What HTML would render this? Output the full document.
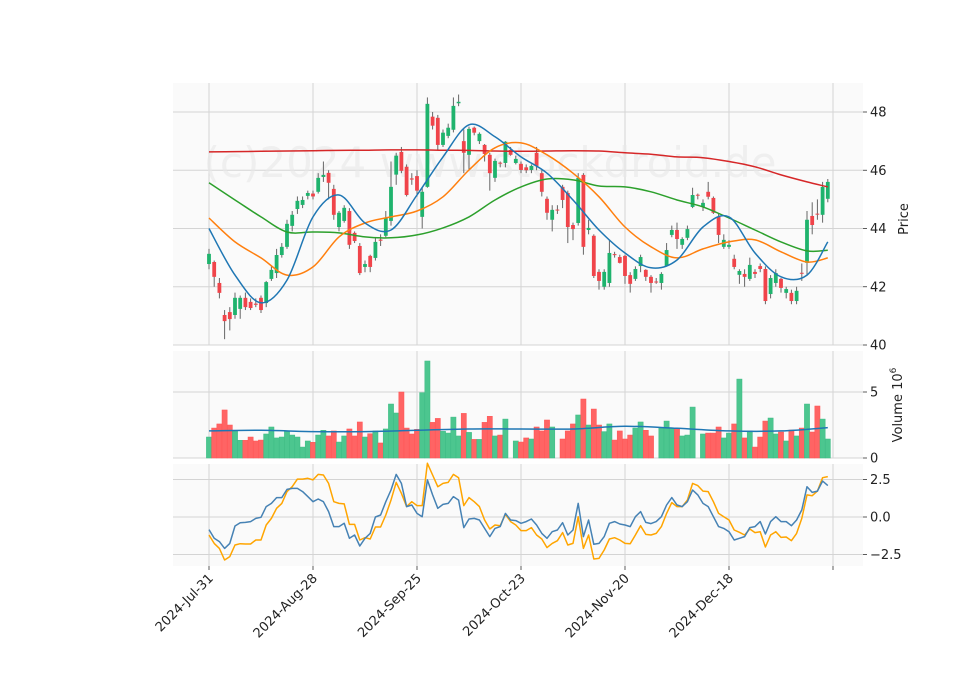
<!DOCTYPE html>
<html><head><meta charset="utf-8"><style>
html,body{margin:0;padding:0;background:#fff;}
svg{display:block;font-family:"DejaVu Sans","Liberation Sans",sans-serif;}
</style></head><body>
<svg id="chart" width="960" height="690" viewBox="0 0 960 690" xmlns="http://www.w3.org/2000/svg">
<rect x="0" y="0" width="960" height="690" fill="#fff"/>
<g id="panels"></g>
<text x="490" y="177" font-size="42" fill="#e8e8e8" fill-opacity="0.6" text-anchor="middle">(c)2024 www.stockdroid.de</text>
<g id="marks"></g>
<g id="axes"></g>
</svg>
<script>
const xTickLabels = ["2024-Jul-31","2024-Aug-28","2024-Sep-25","2024-Oct-23","2024-Nov-20","2024-Dec-18",""];
const xTickIdx = [0,20,40,60,80,100,120];
const open = [42.78,42.85,42.13,41.03,41.13,41.03,41.24,41.62,41.48,41.42,41.62,41.44,42.27,42.47,43.09,43.37,44.09,44.67,44.81,45.12,45.20,45.26,45.77,45.91,45.36,44.05,44.26,44.60,43.85,43.40,42.68,43.06,42.99,43.62,43.75,44.26,45.85,46.63,46.12,45.72,45.80,44.40,45.43,47.84,47.80,46.87,47.18,47.39,48.30,47.00,46.53,47.46,47.00,46.87,46.53,45.74,46.26,46.25,46.70,46.25,46.22,46.10,46.01,46.60,45.90,45.02,44.30,44.65,45.43,45.22,44.12,44.19,45.84,43.95,43.75,42.51,42.00,42.13,43.12,43.02,43.06,42.40,42.27,42.71,42.58,42.34,42.18,42.13,42.71,43.78,43.95,43.44,43.68,44.74,45.16,44.74,45.26,45.05,44.40,43.37,43.37,42.96,42.41,42.44,42.27,42.51,42.71,42.61,41.75,42.13,42.27,41.79,41.79,41.51,42.48,42.82,44.43,44.51,44.47,45.02];
const close = [43.13,42.34,41.79,40.82,40.89,41.62,41.62,41.30,41.27,41.38,41.20,42.16,42.58,43.09,43.37,44.16,44.47,44.95,44.98,45.22,45.10,45.74,45.84,45.57,44.47,44.54,44.71,43.44,43.57,42.47,42.78,42.68,43.54,43.58,44.36,45.43,46.50,45.98,45.15,45.68,45.30,45.26,48.28,47.53,46.87,47.29,47.46,48.21,48.35,46.60,47.42,47.29,47.25,46.56,45.90,46.32,46.24,46.98,46.53,46.39,46.01,46.00,46.15,46.15,45.26,44.54,44.64,44.63,44.98,44.05,43.98,45.74,43.37,44.02,42.37,42.20,42.51,43.16,43.09,42.82,42.37,42.10,42.61,43.02,42.34,42.13,42.16,42.44,43.26,43.95,43.64,43.64,43.98,45.15,45.14,44.88,45.09,44.54,43.78,43.61,43.44,42.68,42.54,42.34,42.75,42.44,42.61,41.51,42.30,42.47,41.96,41.92,41.51,41.86,42.46,44.30,44.12,44.49,45.43,45.60];
const high = [43.3,42.9,42.3,41.2,41.3,41.8,41.7,41.8,41.6,41.6,41.7,42.2,42.7,43.3,43.5,44.3,44.6,45.1,45.1,45.3,45.3,45.9,46.3,46.0,45.5,44.6,44.8,44.7,43.9,43.5,42.9,43.1,43.7,43.8,44.6,46.3,46.6,46.8,46.2,45.9,46.0,45.4,48.5,48.0,47.9,47.4,47.6,48.5,48.6,47.4,47.5,47.5,47.3,46.9,46.6,46.4,46.3,47.0,46.8,46.5,46.3,46.2,46.2,46.8,46.0,45.1,44.8,44.8,45.5,45.3,44.2,45.9,45.9,44.3,43.8,42.6,42.6,43.6,43.2,43.1,43.1,42.5,42.7,43.1,42.6,42.4,42.3,42.5,43.5,44.1,44.2,43.7,44.1,45.4,45.2,45.0,45.6,45.1,44.5,43.8,43.6,43.1,42.6,42.6,43.0,42.6,42.8,42.7,42.4,42.6,42.3,42.0,41.9,42.0,42.8,44.6,44.9,45.0,45.6,45.7];
const low = [42.6,42.0,41.6,40.2,40.5,40.9,40.9,41.2,41.2,41.3,41.1,41.3,42.2,42.3,43.0,43.3,43.9,44.5,44.7,45.0,45.0,45.2,45.6,45.0,44.3,43.9,44.2,43.3,43.5,42.4,42.5,42.5,42.9,43.4,43.7,44.1,45.5,45.9,45.1,45.5,45.1,44.0,45.4,47.4,46.7,46.8,47.1,47.3,48.2,45.9,46.0,47.2,46.9,46.3,45.3,45.6,46.1,46.1,46.5,46.2,45.9,45.9,45.9,46.0,45.1,44.3,43.9,44.5,44.7,43.5,43.6,44.1,43.1,43.8,42.3,41.9,41.9,42.0,43.0,42.8,42.1,41.8,42.2,42.5,42.2,41.8,42.1,41.9,42.7,43.7,43.3,43.3,43.6,44.7,45.0,44.6,45.0,44.5,43.5,43.3,43.3,42.6,42.1,42.0,42.2,42.3,42.5,41.4,41.6,42.0,41.8,41.6,41.4,41.4,42.2,42.4,43.8,44.3,44.2,44.9];
const volume = [1.59,2.27,2.58,3.64,2.5,2.1,1.34,1.34,1.59,1.29,1.36,1.82,2.35,1.52,1.59,2.02,1.74,1.59,0.83,1.29,1.19,1.74,2.1,1.67,2.05,1.21,1.67,2.2,1.67,2.73,1.59,1.84,2.05,1.14,2.2,4.09,3.41,5.0,2.27,1.82,2.17,4.95,7.35,2.7,3.0,2.02,1.89,3.1,1.67,3.38,1.94,1.41,1.41,2.7,3.16,1.67,1.74,2.95,0,1.29,1.21,1.52,1.44,2.35,2.05,2.88,2.35,0,1.44,2.05,2.58,3.26,4.47,2.5,3.71,2.5,2.0,2.58,1.36,2.05,1.44,1.74,2.27,2.73,2.1,1.67,0,2.27,2.8,2.27,2.25,1.67,1.74,3.86,0,1.82,1.89,1.89,2.35,1.52,1.89,2.58,5.98,1.52,2.05,0.83,1.59,2.8,3.03,1.82,1.97,1.29,2.12,1.67,2.27,4.09,1.97,3.94,2.95,1.44];
const volMaIdx = [0,10,20,30,40,50,60,70,80,90,100,110,119];
const volMa = [2.05,2.1,2.0,2.0,2.1,2.2,2.2,2.2,2.4,2.25,2.05,2.05,2.3];
const maIdx = [0,5,10,15,20,25,30,35,40,45,50,55,60,65,70,75,80,85,90,95,100,105,110,115,119];
const maShort = [44.0,42.4,41.45,42.23,44.4,45.15,44.19,43.95,45.15,46.46,47.56,47.15,46.46,45.9,44.98,43.95,43.16,42.65,42.92,44.05,44.4,43.16,42.34,42.4,43.54];
const maMid = [44.36,43.54,42.99,42.4,42.68,43.71,44.19,44.4,44.6,45.09,46.01,46.77,46.94,46.53,45.9,45.09,44.05,43.37,42.99,43.3,43.54,43.61,43.2,42.85,42.99];
const maLong = [45.57,44.98,44.4,43.88,43.88,43.85,43.71,43.68,43.78,44.02,44.4,44.98,45.43,45.7,45.67,45.46,45.43,45.26,44.98,44.74,44.36,43.95,43.54,43.23,43.25];
const maVLong = [46.63,46.64,46.65,46.66,46.67,46.68,46.69,46.7,46.7,46.69,46.68,46.66,46.65,46.66,46.67,46.66,46.6,46.55,46.46,46.43,46.3,46.12,45.84,45.6,45.43];
const oscA = [-0.84,-1.42,-1.64,-2.09,-1.76,-0.6,-0.38,-0.36,-0.31,-0.09,-0.02,0.69,0.91,1.29,1.29,1.84,1.91,1.91,1.69,1.36,1.02,1.2,1.02,0.36,-0.64,-0.64,-0.42,-1.42,-1.2,-1.93,-1.42,-1.09,0,0.13,1.02,1.8,2.84,2.24,0.69,0.8,0.24,0.02,2.47,1.47,0.58,0.84,0.91,1.36,1.13,-0.71,-0.13,-0.09,-0.2,-0.76,-1.31,-0.76,-0.64,0.24,-0.2,-0.24,-0.42,-0.31,-0.13,-0.53,-1.09,-1.42,-0.98,-0.87,-0.38,-1.2,-0.87,0.91,-1.31,-0.2,-1.82,-1.76,-1.31,-0.42,-0.31,-0.47,-0.53,-0.64,0.02,0.36,-0.36,-0.44,-0.31,0.02,0.8,1.29,0.8,0.69,1.02,1.8,1.47,0.91,0.69,0.02,-0.64,-0.76,-0.98,-1.53,-1.42,-1.31,-0.71,-0.64,-0.31,-1.13,-0.31,0.02,-0.31,-0.31,-0.58,-0.2,0.47,2.02,1.64,1.73,2.4,2.09];
const oscB = [-1.2,-1.76,-2.09,-2.87,-2.64,-1.87,-1.78,-1.8,-1.8,-1.53,-1.53,-0.53,-0.09,0.58,0.91,1.69,2.02,2.53,2.53,2.58,2.47,2.84,2.8,2.24,1.02,0.91,0.87,-0.49,-0.49,-1.53,-1.38,-1.47,-0.67,-0.67,0.13,1.13,2.31,1.58,0.69,1.02,0.76,0.76,3.58,2.8,2.02,2.24,2.31,2.84,2.62,0.76,1.29,1.02,0.69,-0.2,-0.8,-0.53,-0.58,0.18,-0.31,-0.53,-0.91,-0.91,-0.71,-1.2,-1.47,-2.04,-1.76,-1.58,-1.04,-1.87,-1.76,0.02,-2.09,-1.2,-2.8,-2.76,-2.2,-1.47,-1.38,-1.53,-1.76,-1.78,-1.2,-0.58,-1.16,-1.2,-1.09,-0.64,0.24,0.96,0.69,0.69,1.13,2.24,2.09,1.73,1.69,1.02,0.24,0.02,-0.2,-0.87,-1.02,-1.2,-0.8,-1.04,-0.98,-2.0,-1.2,-0.98,-1.36,-1.33,-1.58,-1.09,-0.09,1.47,1.42,1.73,2.62,2.69];
const priceTicks = [40,42,44,46,48];
const volTicks = [0,5];
const oscTicks = [-2.5,0,2.5];
const oscTickLabels = ["\u22122.5","0.0","2.5"];

const NS = "http://www.w3.org/2000/svg";
const X0 = 173, X1 = 863;
const xs = i => 209 + 5.2 * i;
const yP = v => 345 - (v - 40) * 29.125;
const yV = v => 458 - v * 13.2;
const yO = v => 517 - v * 15;
function el(tag, attrs, parent) {
  const e = document.createElementNS(NS, tag);
  for (const k in attrs) e.setAttribute(k, attrs[k]);
  parent.appendChild(e);
  return e;
}
const panels = document.getElementById('panels');
const marks = document.getElementById('marks');
const axes = document.getElementById('axes');
const panelDefs = [["price-panel",83,345],["volume-panel",351,458],["oscillator-panel",464,566]];
panelDefs.forEach(p => {
  const r = el('rect', {x:X0, y:p[1], width:X1-X0, height:p[2]-p[1], fill:'#fafafa'}, panels);
  
  
  xTickIdx.forEach(i => {
    const g = el('line', {x1:xs(i), x2:xs(i), y1:p[1], y2:p[2], stroke:'#d4d4d4', 'stroke-width':1}, panels);
    
    
  });
});
function hgrid(y, y0, y1) {
  if (y < y0 - 0.5 || y > y1 + 0.5) return;
  const g = el('line', {x1:X0, x2:X1, y1:y, y2:y, stroke:'#d4d4d4', 'stroke-width':1}, panels);
  
  
}
function ylabel(y, txt, name) {
  el('line', {x1:X1, x2:X1+4, y1:y, y2:y, stroke:'#333', 'stroke-width':0.8}, axes);
  const t = el('text', {x:X1+7, y:y+4.5, 'font-size':13, fill:'#222'}, axes);
  t.textContent = txt;
  
  
}
priceTicks.forEach(v => { hgrid(yP(v), 83, 345); ylabel(yP(v), String(v), 'price-tick-label'); });
volTicks.forEach(v => { hgrid(yV(v), 351, 458); ylabel(yV(v), String(v), 'volume-tick-label'); });
oscTicks.forEach((v, k) => { hgrid(yO(v), 464, 566); ylabel(yO(v), oscTickLabels[k], 'oscillator-tick-label'); });

const UP = '#1fb36d', DN = '#f0444a', VUP = '#4cc68f', VDN = '#ff6464';
for (let i = 0; i < close.length; i++) {
  const up = close[i] >= open[i];
  const w = el('line', {x1:xs(i), x2:xs(i), y1:yP(high[i]), y2:yP(low[i]), stroke:'#666', 'stroke-width':1}, marks);
  
  
  const yt = yP(Math.max(open[i], close[i])), yb = yP(Math.min(open[i], close[i]));
  const b = el('rect', {x:xs(i)-1.9, y:yt, width:3.8, height:Math.max(1, yb-yt), fill: up?UP:DN}, marks);
  
  
  const vb = el('rect', {x:xs(i)-2.6, y:yV(volume[i]), width:5.2, height:458-yV(volume[i]), fill: up?VUP:VDN, stroke: up?'#3dbb84':'#f55', 'stroke-width':0.5}, marks);
  
  
}
function line(idx, vals, yf, color, name, w) {
  const pts = vals.map((v, k) => xs(idx[k]).toFixed(1) + ',' + yf(v).toFixed(1)).join(' ');
  const p = el('polyline', {points:pts, fill:'none', stroke:color, 'stroke-width':w||1.5, 'stroke-linejoin':'round'}, marks);
  
  
}
function smooth(idx, vals, yf, color, name) {
  const P = vals.map((v, k) => [xs(idx[k]), yf(v)]);
  let d = 'M' + P[0][0].toFixed(1) + ',' + P[0][1].toFixed(1);
  for (let k = 0; k < P.length - 1; k++) {
    const p0 = P[Math.max(0, k-1)], p1 = P[k], p2 = P[k+1], p3 = P[Math.min(P.length-1, k+2)];
    const c1 = [p1[0] + (p2[0]-p0[0])/6, p1[1] + (p2[1]-p0[1])/6];
    const c2 = [p2[0] - (p3[0]-p1[0])/6, p2[1] - (p3[1]-p1[1])/6];
    d += ' C' + c1[0].toFixed(1) + ',' + c1[1].toFixed(1) + ' ' + c2[0].toFixed(1) + ',' + c2[1].toFixed(1) + ' ' + p2[0].toFixed(1) + ',' + p2[1].toFixed(1);
  }
  const p = el('path', {d:d, fill:'none', stroke:color, 'stroke-width':1.5}, marks);
  
  
}
smooth(maIdx, maVLong, yP, '#d62728', 'ma-long-line');
smooth(maIdx, maLong, yP, '#2ca02c', 'ma-200-line');
smooth(maIdx, maMid, yP, '#ff7f0e', 'ma-mid-line');
smooth(maIdx, maShort, yP, '#1f77b4', 'ma-short-line');
smooth(volMaIdx, volMa, yV, '#1f77b4', 'volume-ma-line');
const allIdx = close.map((_, i) => i);
line(allIdx, oscB, yO, '#ffa500', 'oscillator-signal-line');
line(allIdx, oscA, yO, '#4682b4', 'oscillator-main-line');

xTickIdx.forEach((i, k) => {
  el('line', {x1:xs(i), x2:xs(i), y1:566, y2:570, stroke:'#333', 'stroke-width':0.8}, axes);
  if (!xTickLabels[k]) return;
  const ax = xs(i) + 5, ay = 579;
  const t = el('text', {x:ax, y:ay, 'font-size':13, fill:'#222', 'text-anchor':'end', transform:'rotate(-45 ' + ax + ' ' + ay + ')'}, axes);
  t.textContent = xTickLabels[k];
  
  
});
const pl = el('text', {x:908, y:219, 'font-size':13, fill:'#222', 'text-anchor':'middle', transform:'rotate(-90 908 219)'}, axes);
pl.textContent = 'Price';


const vl = el('text', {x:902, y:405, 'font-size':13, fill:'#222', 'text-anchor':'middle', transform:'rotate(-90 902 405)'}, axes);


vl.textContent = 'Volume  10';
const sup = el('tspan', {dy:-6, 'font-size':9}, vl);
sup.textContent = '6';
</script>
</body></html>
